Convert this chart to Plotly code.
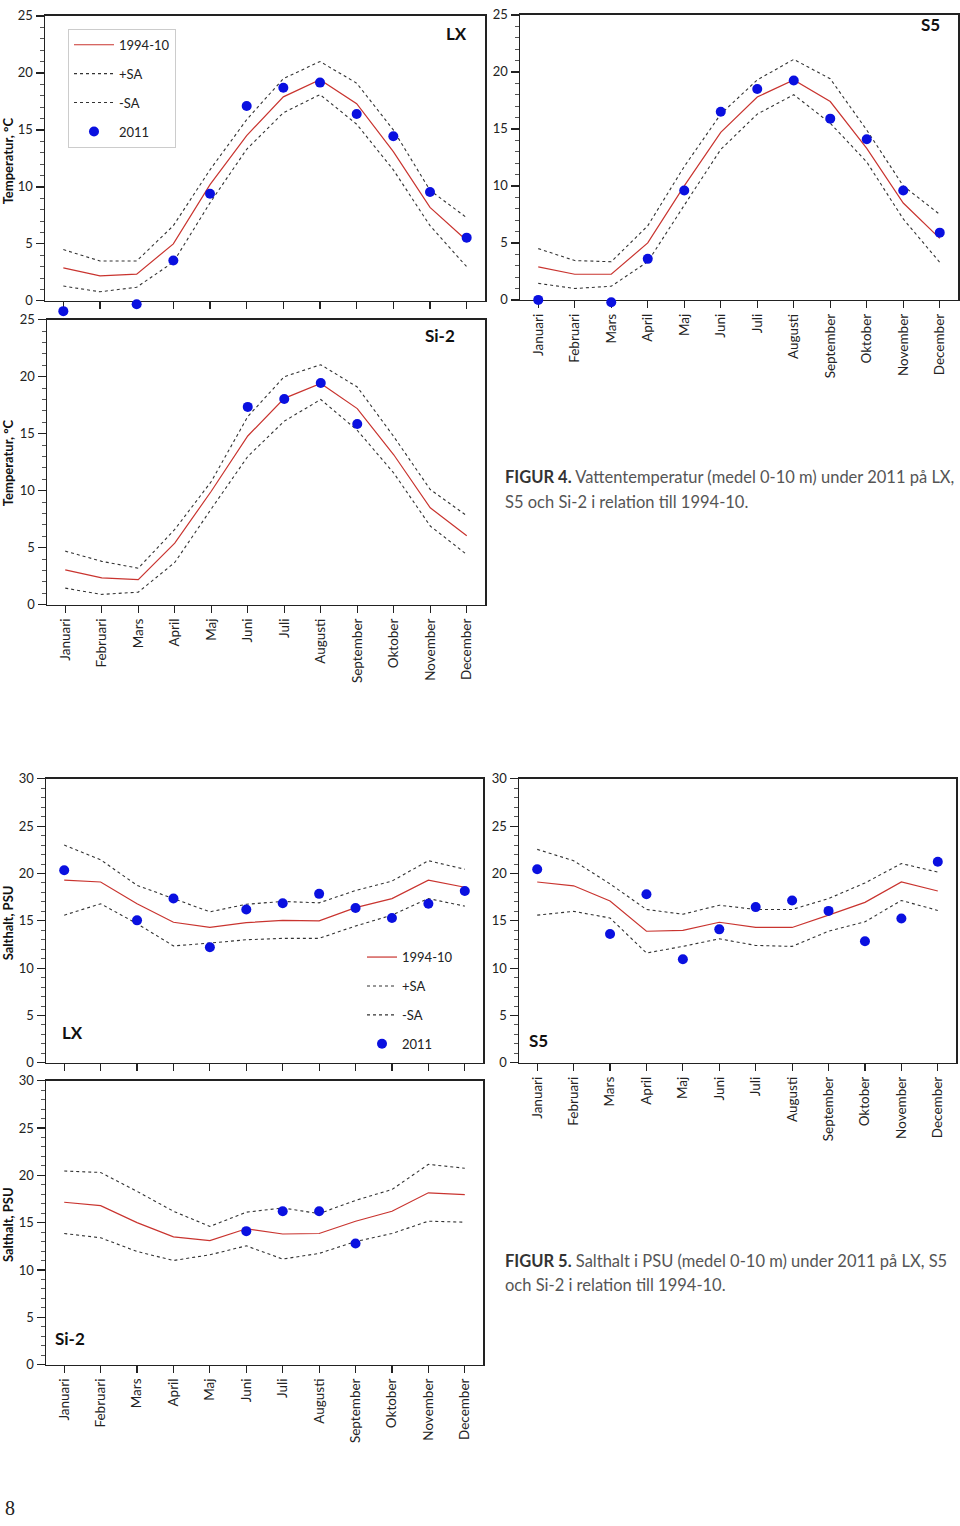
import plotly.graph_objects as go

W, H = 960, 1526

months = ["Januari", "Februari", "Mars", "April", "Maj", "Juni", "Juli",
          "Augusti", "September", "Oktober", "November", "December"]
mnum = list(range(1, 13))

# ---- Temperatur (°C) ----
lx_t_mean = [2.9, 2.2, 2.35, 5.0, 10.2, 14.5, 17.9, 19.4, 17.3, 13.1, 8.2, 5.3]
lx_t_plus = [4.5, 3.5, 3.5, 6.6, 11.5, 15.9, 19.5, 21.0, 19.1, 15.0, 9.7, 7.3]
lx_t_minus = [1.3, 0.8, 1.2, 3.4, 8.6, 13.3, 16.5, 18.1, 15.5, 11.5, 6.6, 3.0]
lx_t_2011 = [-0.9, None, -0.3, 3.55, 9.4, 17.1, 18.7, 19.15, 16.4, 14.45, 9.55, 5.55]

s5_t_mean = [2.9, 2.25, 2.25, 5.0, 10.0, 14.7, 17.8, 19.3, 17.4, 13.3, 8.5, 5.4]
s5_t_plus = [4.5, 3.45, 3.35, 6.5, 11.7, 16.3, 19.3, 21.1, 19.4, 14.9, 10.0, 7.5]
s5_t_minus = [1.45, 1.0, 1.2, 3.35, 8.3, 13.2, 16.3, 18.0, 15.5, 12.1, 7.1, 3.3]
s5_t_2011 = [0.0, None, -0.2, 3.6, 9.6, 16.5, 18.5, 19.25, 15.9, 14.1, 9.6, 5.9]

si_t_mean = [3.05, 2.35, 2.2, 5.4, 9.95, 14.8, 18.1, 19.4, 17.2, 13.15, 8.5, 6.05]
si_t_plus = [4.7, 3.8, 3.2, 6.6, 10.8, 16.5, 20.0, 21.05, 19.1, 14.75, 10.1, 7.8]
si_t_minus = [1.45, 0.9, 1.1, 3.7, 8.4, 13.0, 16.1, 18.0, 15.3, 11.55, 6.9, 4.4]
si_t_2011 = [None, None, None, None, None, 17.35, 18.05, 19.45, 15.85, None, None, None]

# ---- Salthalt (PSU) ----
lx_s_mean = [19.3, 19.1, 16.8, 14.85, 14.3, 14.8, 15.05, 15.0, 16.4, 17.35, 19.3, 18.55]
lx_s_plus = [23.0, 21.45, 18.75, 17.35, 15.95, 16.75, 17.05, 16.9, 18.2, 19.2, 21.35, 20.45]
lx_s_minus = [15.6, 16.8, 14.7, 12.35, 12.65, 13.0, 13.15, 13.15, 14.45, 15.6, 17.35, 16.55]
lx_s_2011 = [20.35, None, 15.05, 17.35, 12.2, 16.2, 16.85, 17.85, 16.35, 15.3, 16.8, 18.15]

s5_s_mean = [19.1, 18.7, 17.1, 13.9, 14.0, 14.85, 14.3, 14.3, 15.6, 16.95, 19.1, 18.15]
s5_s_plus = [22.55, 21.35, 18.9, 16.2, 15.7, 16.65, 16.2, 16.2, 17.35, 19.0, 21.05, 20.15]
s5_s_minus = [15.6, 16.0, 15.3, 11.6, 12.3, 13.1, 12.4, 12.3, 13.9, 14.9, 17.15, 16.1]
s5_s_2011 = [20.45, None, 13.6, 17.8, 10.95, 14.1, 16.45, 17.15, 16.05, 12.85, 15.25, 21.25]

si_s_mean = [17.15, 16.8, 15.0, 13.5, 13.1, 14.35, 13.8, 13.85, 15.15, 16.2, 18.15, 17.95]
si_s_plus = [20.45, 20.3, 18.3, 16.2, 14.6, 16.1, 16.55, 15.95, 17.35, 18.5, 21.15, 20.75]
si_s_minus = [13.85, 13.4, 11.95, 11.0, 11.6, 12.55, 11.15, 11.75, 13.0, 13.85, 15.15, 15.05]
si_s_2011 = [None, None, None, None, None, 14.1, 16.2, 16.2, 12.8, None, None, None]

series_names = ["1994-10", "+SA", "-SA", "2011"]

FONT = "Lato"
RED = "#c9342f"
DOT = "#333333"
BLUE = "#0a10e0"
AX = "#222222"

# panel boxes in pixels: (x0, x1, y0, y1)
panels = [
    dict(box=(45, 485, 8, 296), ymax=25, labels=False, data=(lx_t_mean, lx_t_plus, lx_t_minus, lx_t_2011), legend="legend"),
    dict(box=(520, 958, 7, 295), ymax=25, labels=True, data=(s5_t_mean, s5_t_plus, s5_t_minus, s5_t_2011), legend=None),
    dict(box=(47, 485, 315, 603), ymax=25, labels=True, data=(si_t_mean, si_t_plus, si_t_minus, si_t_2011), legend=None),
    dict(box=(46, 483, 779, 1066), ymax=30, labels=False, data=(lx_s_mean, lx_s_plus, lx_s_minus, lx_s_2011), legend="legend2"),
    dict(box=(519, 956, 779, 1066), ymax=30, labels=True, data=(s5_s_mean, s5_s_plus, s5_s_minus, s5_s_2011), legend=None),
    dict(box=(46, 483, 1084, 1371), ymax=30, labels=True, data=(si_s_mean, si_s_plus, si_s_minus, si_s_2011), legend=None),
]

EXT = 20  # extra px below each panel where 2011 markers may fall (values below 0)

fig = go.Figure()
layout = {}
n = len(panels)
for i, p in enumerate(panels, start=1):
    xa = "x" if i == 1 else f"x{i}"
    ya = "y" if i == 1 else f"y{i}"
    ya_m = f"y{i + n}"  # invisible twin axis, same scale, extended below 0
    mean, plus, minus, obs = p["data"]
    show = p["legend"] is not None
    styles = [
        dict(mode="lines", line=dict(color=RED, width=1.2)),
        dict(mode="lines", line=dict(color=DOT, width=1.1, dash="dot")),
        dict(mode="lines", line=dict(color=DOT, width=1.1, dash="dot")),
        dict(mode="markers", marker=dict(color=BLUE, size=10), cliponaxis=False),
    ]
    for k, (vals, st) in enumerate(zip((mean, plus, minus, obs), styles)):
        kw = dict(x=mnum, y=vals, xaxis=xa, yaxis=(ya_m if k == 3 else ya),
                  name=series_names[k], showlegend=show, hoverinfo="skip", **st)
        if show:
            kw["legend"] = p["legend"]
            kw["legendgroup"] = f"{p['legend']}_{k}"
        fig.add_trace(go.Scatter(**kw))
    x0, x1, y0, y1 = p["box"]
    layout["xaxis" if i == 1 else f"xaxis{i}"] = dict(
        domain=[x0 / W, x1 / W], anchor=ya, range=[0.5, 12.5],
        tickvals=mnum, ticktext=months, showticklabels=p["labels"],
        ticks="outside", ticklen=7, tickwidth=1.2, tickcolor=AX,
        tickangle=-90, tickfont=dict(family=FONT, size=13.5, color="#222"),
        showline=True, mirror=True, linecolor=AX, linewidth=1.5,
        showgrid=False, zeroline=False, fixedrange=True)
    layout["yaxis" if i == 1 else f"yaxis{i}"] = dict(
        domain=[1 - y1 / H, 1 - y0 / H], anchor=xa, range=[0, p["ymax"]],
        dtick=5, tick0=0, ticks="outside", ticklen=8, tickwidth=1.2, tickcolor=AX,
        minor=dict(dtick=1, ticks="outside", ticklen=4, tickwidth=1, tickcolor="#555", showgrid=False),
        tickfont=dict(family=FONT, size=13, color="#222"),
        showline=True, mirror=True, linecolor=AX, linewidth=1.5,
        showgrid=False, zeroline=False, fixedrange=True)
    per_px = p["ymax"] / (y1 - y0)
    layout[f"yaxis{i + n}"] = dict(
        domain=[1 - (y1 + EXT) / H, 1 - y0 / H], anchor=xa,
        range=[-EXT * per_px, p["ymax"]], visible=False, fixedrange=True,
        showgrid=False, zeroline=False)

ann = []
def label(text, x, y, size=17):
    ann.append(dict(text=f"<b>{text}</b>", x=x / W, y=1 - y / H, xref="paper", yref="paper",
                    showarrow=False, font=dict(family=FONT, size=size, color="#111"),
                    xanchor="center", yanchor="middle"))

label("LX", 456, 26)
label("S5", 930, 17)
label("Si-2", 440, 331)
label("LX", 72, 1035)
label("S5", 538, 1043)
label("Si-2", 70, 1345)

def ytitle(text, y):
    ann.append(dict(text=f"<b>{text}</b>", x=8 / W, y=1 - y / H, xref="paper", yref="paper",
                    showarrow=False, textangle=-90, font=dict(family=FONT, size=13, color="#111"),
                    xanchor="center", yanchor="middle"))

ytitle("Temperatur, °C", 155)
ytitle("Temperatur, °C", 460)
ytitle("Salthalt, PSU", 925)
ytitle("Salthalt, PSU", 1230)

def caption(text, y):
    ann.append(dict(text=text, x=503 / W, y=1 - y / H, xref="paper", yref="paper",
                    showarrow=False, font=dict(family=FONT, size=16.5, color="#555"),
                    xanchor="left", yanchor="middle"))

caption("<b><span style='color:#333'>FIGUR 4.</span></b> Vattentemperatur (medel 0-10 m) under 2011 på LX,", 474)
caption("S5 och Si-2 i relation till 1994-10.", 499)
caption("<b><span style='color:#333'>FIGUR 5.</span></b> Salthalt i PSU (medel 0-10 m) under 2011 på LX, S5", 1266)
caption("och Si-2 i relation till 1994-10.", 1291)

ann.append(dict(text="8", x=3 / W, y=1 - 1516 / H, xref="paper", yref="paper", showarrow=False,
                font=dict(family="Liberation Serif", size=20, color="#222"),
                xanchor="left", yanchor="middle"))

fig.update_layout(
    width=W, height=H, margin=dict(l=0, r=0, t=0, b=0),
    paper_bgcolor="white", plot_bgcolor="rgba(0,0,0,0)",
    font=dict(family=FONT, color="#222"),
    annotations=ann,
    legend=dict(x=68 / W, y=1 - 21 / H, xanchor="left", yanchor="top",
                bgcolor="white", bordercolor="#cccccc", borderwidth=1,
                font=dict(family=FONT, size=13, color="#222"),
                traceorder="grouped", tracegroupgap=9, itemwidth=40),
    legend2=dict(x=362 / W, y=1 - 944 / H, xanchor="left", yanchor="top",
                 bgcolor="rgba(255,255,255,0)", borderwidth=0,
                 font=dict(family=FONT, size=13, color="#222"),
                 traceorder="grouped", tracegroupgap=9, itemwidth=30),
    **layout,
)

fig.write_html(
    "out.html",
    config={"displayModeBar": False, "staticPlot": True},
    post_script="document.body.style.margin='0';document.body.style.padding='0';"
                "document.documentElement.style.overflow='hidden';",
)
